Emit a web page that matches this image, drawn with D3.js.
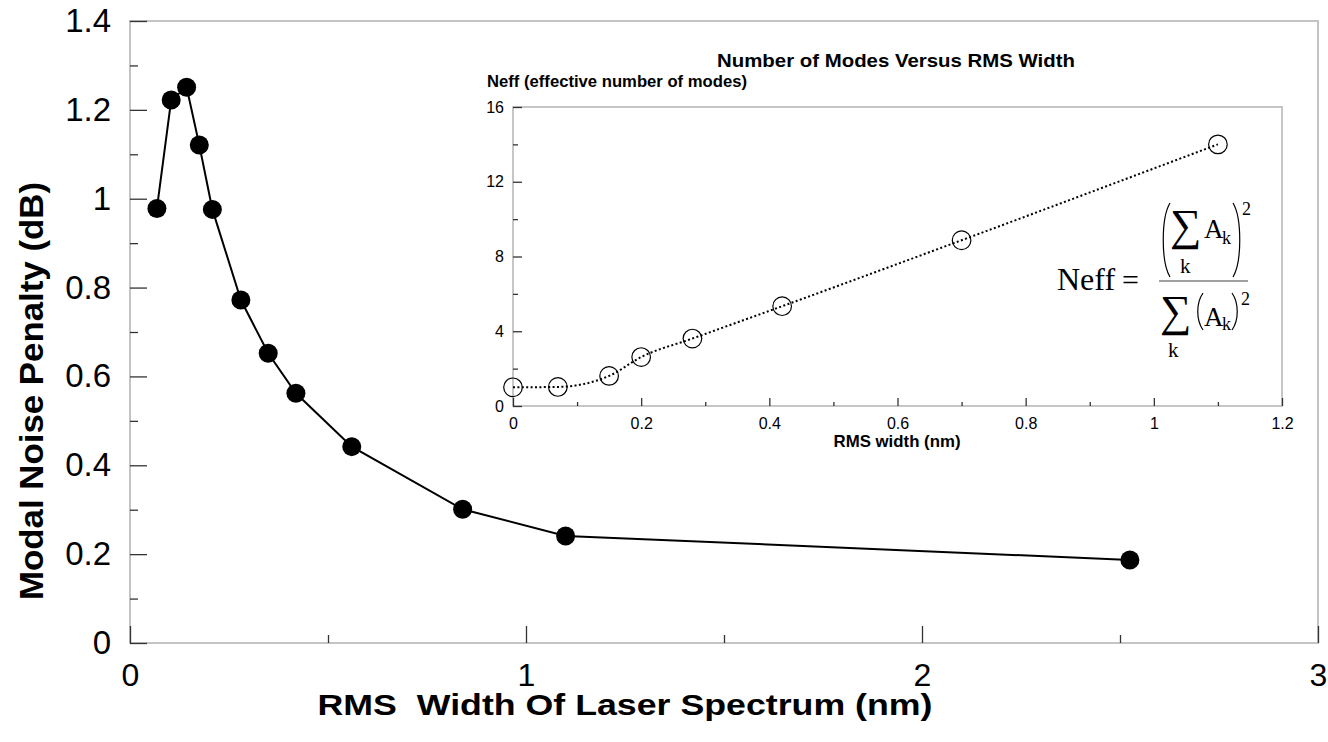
<!DOCTYPE html>
<html>
<head>
<meta charset="utf-8">
<script src="https://cdn.jsdelivr.net/npm/d3@7"></script>
<style>
  html, body { margin: 0; padding: 0; background: #fff; }
  svg { display: block; }
  text { font-family: "Liberation Sans", Arial, sans-serif; fill: #000; }
  .serif { font-family: "Liberation Serif", "Times New Roman", serif; }
</style>
</head>
<body>
<svg id="chart" width="1328" height="742"></svg>
<script>
// Modal noise penalty versus RMS spectral width
const penaltyWidth = [0.068, 0.104, 0.143, 0.175, 0.208, 0.28, 0.349, 0.419, 0.56, 0.84, 1.10, 2.525];
const penaltyDb    = [0.978, 1.222, 1.251, 1.121, 0.976, 0.772, 0.652, 0.562, 0.442, 0.301, 0.241, 0.187];

// Effective number of modes versus RMS width (inset)
const modeWidth = [0, 0.07, 0.15, 0.2, 0.28, 0.42, 0.7, 1.1];
const modeCount = [1.0, 1.02, 1.61, 2.62, 3.61, 5.34, 8.87, 14.0];

// Tick values and labels
const mainXTicks = [0, 1, 2, 3];
const mainXTickLabels = ["0", "1", "2", "3"];
const mainXMinor = [0.5, 1.5, 2.5];
const mainYTicks = [0, 0.2, 0.4, 0.6, 0.8, 1.0, 1.2, 1.4];
const mainYTickLabels = ["0", "0.2", "0.4", "0.6", "0.8", "1", "1.2", "1.4"];
const mainYMinor = [0.1, 0.3, 0.5, 0.7, 0.9, 1.1, 1.3];

const insetXTicks = [0, 0.2, 0.4, 0.6, 0.8, 1.0, 1.2];
const insetXTickLabels = ["0", "0.2", "0.4", "0.6", "0.8", "1", "1.2"];
const insetXMinor = [0.1, 0.3, 0.5, 0.7, 0.9, 1.1];
const insetYTicks = [0, 4, 8, 12, 16];
const insetYTickLabels = ["0", "4", "8", "12", "16"];
const insetYMinor = [2, 6, 10, 14];

const svg = d3.select("#chart");
const frameColor = "#c4c4c4";
const tickColor = "#333";

// ---------- main chart ----------
const x = d3.scaleLinear().domain([0, 3]).range([130, 1318]);
const y = d3.scaleLinear().domain([0, 1.4]).range([643, 21]);

const main = svg.append("g");

main.append("rect")
  .attr("x", x(0)).attr("y", y(1.4))
  .attr("width", x(3) - x(0)).attr("height", y(0) - y(1.4))
  .attr("fill", "none").attr("stroke", frameColor).attr("stroke-width", 2);

function styleAxis(g, size) {
  g.select(".domain").remove();
  g.selectAll(".tick line").attr("stroke", tickColor).attr("stroke-width", 1.3);
  g.selectAll(".tick text").attr("font-size", size).attr("font-family", "Liberation Sans, Arial, sans-serif").attr("fill", "#000");
}

main.append("g")
  .attr("transform", `translate(${x(0)},0)`)
  .call(d3.axisLeft(y).tickValues(mainYTicks).tickSize(-17).tickPadding(19)
    .tickFormat((d, i) => mainYTickLabels[i]))
  .call(g => styleAxis(g, 33));

main.append("g")
  .attr("transform", `translate(${x(0)},0)`)
  .call(d3.axisLeft(y).tickValues(mainYMinor).tickSize(-8).tickFormat(""))
  .call(g => styleAxis(g, 33));

main.append("g")
  .attr("transform", `translate(0,${y(0)})`)
  .call(d3.axisBottom(x).tickValues(mainXTicks).tickSize(-17).tickPadding(20)
    .tickFormat((d, i) => mainXTickLabels[i]))
  .call(g => styleAxis(g, 32))
  .call(g => g.selectAll(".tick text").attr("dy", "0.71em").attr("y", 20));

main.append("g")
  .attr("transform", `translate(0,${y(0)})`)
  .call(d3.axisBottom(x).tickValues(mainXMinor).tickSize(-8).tickFormat(""))
  .call(g => styleAxis(g, 33));

// axis titles
main.append("text")
  .attr("x", 625).attr("y", 715)
  .attr("text-anchor", "middle")
  .style("white-space", "pre")
  .attr("font-weight", "bold").attr("font-size", 30)
  .attr("textLength", 615).attr("lengthAdjust", "spacingAndGlyphs")
  .text("RMS  Width Of Laser Spectrum (nm)");

main.append("text")
  .attr("transform", "translate(43,391) rotate(-90)")
  .attr("text-anchor", "middle")
  .attr("font-weight", "bold").attr("font-size", 33)
  .attr("textLength", 418).attr("lengthAdjust", "spacingAndGlyphs")
  .text("Modal Noise Penalty (dB)");

const penalty = penaltyWidth.map((w, i) => [w, penaltyDb[i]]);

main.append("path")
  .datum(penalty)
  .attr("fill", "none").attr("stroke", "#000").attr("stroke-width", 2)
  .attr("d", d3.line().x(d => x(d[0])).y(d => y(d[1])));

main.selectAll("circle.pt")
  .data(penalty)
  .join("circle")
  .attr("class", "pt")
  .attr("cx", d => x(d[0])).attr("cy", d => y(d[1]))
  .attr("r", 9.5).attr("fill", "#000");

// ---------- inset chart ----------
const ix = d3.scaleLinear().domain([0, 1.2]).range([513, 1282]);
const iy = d3.scaleLinear().domain([0, 16]).range([406, 107]);

const inset = svg.append("g");

inset.append("rect")
  .attr("x", ix(0)).attr("y", iy(16))
  .attr("width", ix(1.2) - ix(0)).attr("height", iy(0) - iy(16))
  .attr("fill", "#fff").attr("stroke", "#b8b8b8").attr("stroke-width", 1.6);

inset.append("g")
  .attr("transform", `translate(${ix(0)},0)`)
  .call(d3.axisLeft(iy).tickValues(insetYTicks).tickSize(-9).tickPadding(9)
    .tickFormat((d, i) => insetYTickLabels[i]))
  .call(g => styleAxis(g, 16));

inset.append("g")
  .attr("transform", `translate(${ix(0)},0)`)
  .call(d3.axisLeft(iy).tickValues(insetYMinor).tickSize(-5).tickFormat(""))
  .call(g => styleAxis(g, 16));

inset.append("g")
  .attr("transform", `translate(0,${iy(0)})`)
  .call(d3.axisBottom(ix).tickValues(insetXTicks).tickSize(-8).tickPadding(12)
    .tickFormat((d, i) => insetXTickLabels[i]))
  .call(g => styleAxis(g, 16))
  .call(g => g.selectAll(".tick text").attr("dy", "0.71em").attr("y", 12));

inset.append("g")
  .attr("transform", `translate(0,${iy(0)})`)
  .call(d3.axisBottom(ix).tickValues(insetXMinor).tickSize(-4).tickFormat(""))
  .call(g => styleAxis(g, 16));

inset.append("text")
  .attr("x", 896).attr("y", 67)
  .attr("text-anchor", "middle")
  .attr("font-weight", "bold").attr("font-size", 19)
  .attr("textLength", 358).attr("lengthAdjust", "spacingAndGlyphs")
  .text("Number of Modes Versus RMS Width");

inset.append("text")
  .attr("x", 487).attr("y", 87)
  .attr("font-weight", "bold").attr("font-size", 16.5)
  .attr("textLength", 260).attr("lengthAdjust", "spacingAndGlyphs")
  .text("Neff (effective number of modes)");

inset.append("text")
  .attr("x", 897).attr("y", 447)
  .attr("text-anchor", "middle")
  .attr("font-weight", "bold").attr("font-size", 16.5)
  .attr("textLength", 127).attr("lengthAdjust", "spacingAndGlyphs")
  .text("RMS width (nm)");

const modes = modeWidth.map((w, i) => [w, modeCount[i]]);

inset.append("path")
  .datum(modes)
  .attr("fill", "none").attr("stroke", "#000").attr("stroke-width", 2)
  .attr("stroke-dasharray", "2,2.4")
  .attr("d", d3.line().curve(d3.curveMonotoneX).x(d => ix(d[0])).y(d => iy(d[1])));

inset.selectAll("circle.mode")
  .data(modes)
  .join("circle")
  .attr("class", "mode")
  .attr("cx", d => ix(d[0])).attr("cy", d => iy(d[1]))
  .attr("r", 9.3).attr("fill", "none").attr("stroke", "#000").attr("stroke-width", 1.2);

// ---------- Neff formula ----------
const f = inset.append("g").attr("class", "formula");

f.append("text").attr("class", "serif").attr("x", 1057).attr("y", 290).attr("font-size", 32).text("Neff");
f.append("text").attr("class", "serif").attr("x", 1122).attr("y", 290).attr("font-size", 30).text("=");

f.append("line")
  .attr("x1", 1159).attr("x2", 1248).attr("y1", 281).attr("y2", 281)
  .attr("stroke", "#808080").attr("stroke-width", 1.6);

// numerator: (sum_k A_k)^2
f.append("path").attr("d", "M1170,203 C1161,218 1161,262 1170,277")
  .attr("fill", "none").attr("stroke", "#000").attr("stroke-width", 1.2);
f.append("path").attr("d", "M1233,203 C1242,218 1242,262 1233,277")
  .attr("fill", "none").attr("stroke", "#000").attr("stroke-width", 1.2);
f.append("text").attr("class", "serif").attr("x", 1170).attr("y", 240).attr("font-size", 44).text("∑");
f.append("text").attr("class", "serif").attr("x", 1204).attr("y", 238).attr("font-size", 27).text("A");
f.append("text").attr("class", "serif").attr("x", 1222).attr("y", 244).attr("font-size", 18).text("k");
f.append("text").attr("class", "serif").attr("x", 1180).attr("y", 273).attr("font-size", 21).text("k");
f.append("text").attr("class", "serif").attr("x", 1242).attr("y", 215).attr("font-size", 18).text("2");

// denominator: sum_k (A_k)^2
f.append("text").attr("class", "serif").attr("x", 1160).attr("y", 326).attr("font-size", 44).text("∑");
f.append("path").attr("d", "M1203,293 C1196,303 1196,320 1203,330")
  .attr("fill", "none").attr("stroke", "#000").attr("stroke-width", 1.2);
f.append("path").attr("d", "M1232,293 C1239,303 1239,320 1232,330")
  .attr("fill", "none").attr("stroke", "#000").attr("stroke-width", 1.2);
f.append("text").attr("class", "serif").attr("x", 1204).attr("y", 326).attr("font-size", 27).text("A");
f.append("text").attr("class", "serif").attr("x", 1222).attr("y", 330).attr("font-size", 18).text("k");
f.append("text").attr("class", "serif").attr("x", 1241).attr("y", 305).attr("font-size", 18).text("2");
f.append("text").attr("class", "serif").attr("x", 1168).attr("y", 357).attr("font-size", 21).text("k");
</script>
</body>
</html>
